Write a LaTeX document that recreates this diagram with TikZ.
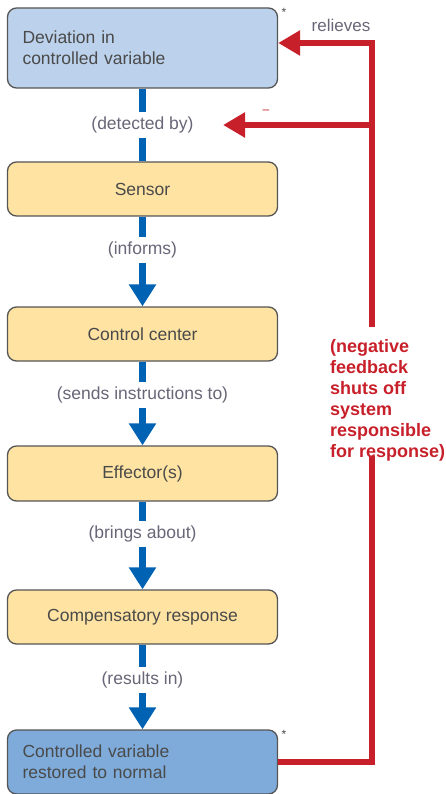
\documentclass[tikz,border=0pt]{standalone}
\usepackage{fontspec}
\setmainfont{Liberation Sans}
\definecolor{devblue}{HTML}{BCD1EB}
\definecolor{okblue}{HTML}{7EABDA}
\definecolor{stepyellow}{HTML}{FEE3A2}
\definecolor{flowblue}{HTML}{0062B2}
\definecolor{fbred}{HTML}{C8202A}
\definecolor{boxline}{HTML}{555555}
\definecolor{boxtext}{HTML}{4A4A4A}
\definecolor{lbltext}{HTML}{6A6678}
\usepackage{tikz}
\usetikzlibrary{arrows.meta, positioning}

\begin{document}
\begin{tikzpicture}[x=1pt, y=-1pt,
    box/.style={rounded corners=9pt, draw=boxline, line width=1.3pt,
      minimum width=270pt, text=boxtext, font=\fontsize{17.5}{21}\selectfont},
    lbl/.style={fill=white, inner sep=5pt, text=lbltext,
      font=\fontsize{17.5}{21}\selectfont},
    flowline/.style={draw=flowblue, line width=7pt},
    flowarrow/.style={flowline, -{Triangle[width=26pt, length=22pt]}},
    fbline/.style={draw=fbred, line width=6.5pt},
    fbarrow/.style={fbline, -{Triangle[width=24pt, length=22pt]}}]
    \useasboundingbox (0,0) rectangle (445,794);

    % the loop, top to bottom
    \node[box, fill=devblue, minimum height=80pt, text width=240pt, align=left]
      (dev) at (142.5,48) {Deviation in\\controlled variable};
    \node[box, fill=stepyellow, minimum height=54pt] (sensor) at (142.5,189) {Sensor};
    \node[box, fill=stepyellow, minimum height=54pt] (ctrl) at (142.5,334) {Control center};
    \node[box, fill=stepyellow, minimum height=55pt] (eff) at (142.5,473.5) {Effector(s)};
    \node[box, fill=stepyellow, minimum height=54pt] (comp) at (142.5,617) {Compensatory response};
    \node[box, fill=okblue, minimum height=64pt, text width=240pt, align=left]
      (restored) at (142.5,762) {Controlled variable\\restored to normal};

    \draw[flowline] (dev) -- node[lbl] (det) {(detected by)} (sensor);
    \draw[flowarrow] (sensor) -- node[lbl, pos=0.37] (inf) {(informs)} (ctrl);
    \draw[flowarrow] (ctrl) -- node[lbl, pos=0.4] (sends) {(sends instructions to)} (eff);
    \draw[flowarrow] (eff) -- node[lbl, pos=0.37] (brings) {(brings about)} (comp);
    \draw[flowarrow] (comp) -- node[lbl, pos=0.42] (results) {(results in)} (restored);

    % negative feedback
    \coordinate (top) at (372,43);
    \coordinate (branch) at (372,125);
    \coordinate (gapt) at (372,327);
    \coordinate (gapb) at (372,456);
    \draw[fbline] (restored.east) -| (gapb);
    \draw[fbarrow] (gapt) -- (top) -- (top -| dev.east);
    \draw[fbarrow, shorten >=21pt] (branch) -- (det.east);

    \node[anchor=west, inner sep=0pt, text=fbred, align=left,
          font=\fontsize{18}{21}\selectfont\bfseries] (note) at (330,400)
      {(negative\\feedback\\shuts off\\system\\responsible\\for response)};
    \node[text=lbltext, font=\fontsize{17}{21}\selectfont] (rel) at (341,25) {relieves};
    \node[text=fbred, font=\fontsize{12}{12}\selectfont] (minus) at (266,112) {--};
    \node[font=\fontsize{12}{12}\selectfont, text=boxtext] (star1) at (284,12) {*};
    \node[font=\fontsize{12}{12}\selectfont, text=boxtext] (star2) at (284,734) {*};
\end{tikzpicture}
\end{document}
